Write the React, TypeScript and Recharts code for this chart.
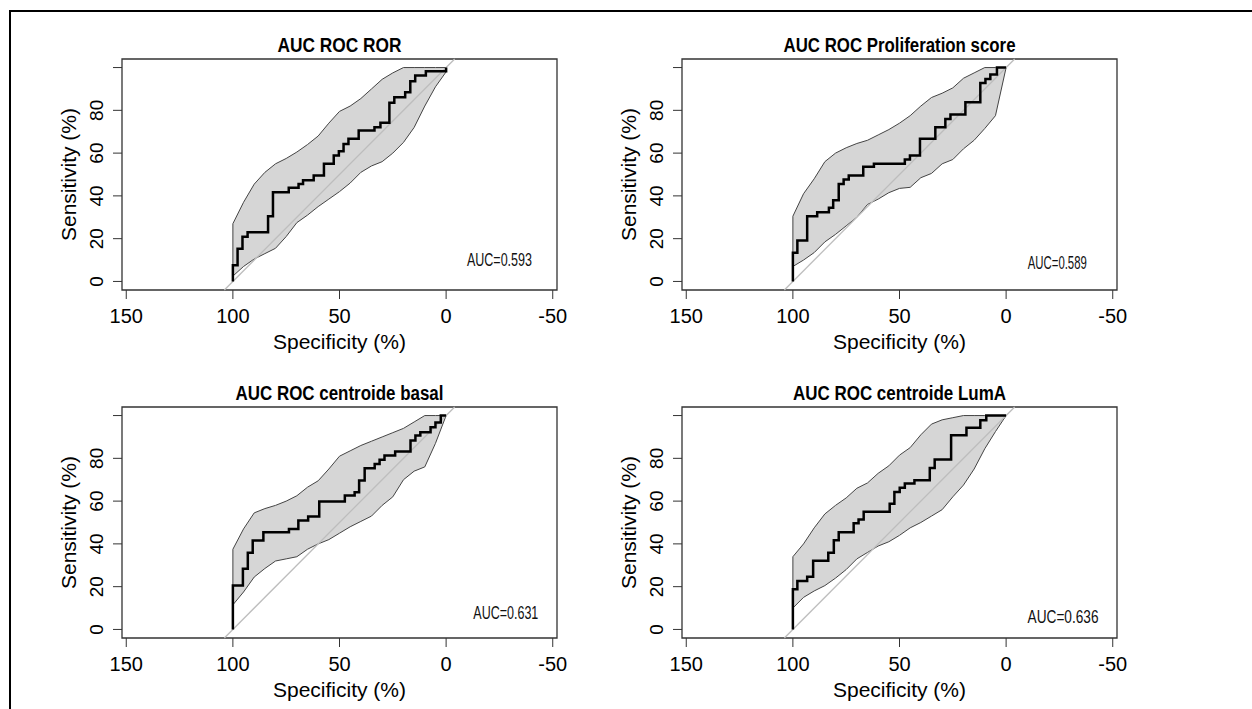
import React from 'react';
import { ComposedChart, Area, Line, XAxis, YAxis, ReferenceArea, ReferenceDot } from 'recharts';

// specificities where the CI band of sensitivity was read
const bandSp = [100, 95, 90, 85, 80, 75, 70, 65, 60, 55, 50, 45, 40, 35, 30, 25, 20, 15, 10, 5, 0];

// ROR
const rorSp = [100, 100, 97.8, 95.5, 93.1, 83.5, 81.2, 73.8, 69.2, 67.1, 62.1, 57.3, 52.7, 50.3, 48.1, 45.8, 41, 33.6, 30.8, 26.6, 24.3, 19.2, 16.8, 14.5, 9.5, 0];
const rorSe = [0, 7.6, 15.3, 20.9, 23, 30.5, 41.7, 43.8, 45.6, 47.3, 49.5, 55, 58.9, 60.9, 64.3, 66.7, 70.6, 72.1, 74.2, 83.5, 86.1, 88.5, 93.6, 96.3, 98.3, 100];
const rorLow = [2.5, 7, 10.5, 13, 15.5, 21, 27.5, 31, 35, 38.5, 42, 46, 51, 54, 56, 60, 65, 72, 82, 91, 98];
const rorHigh = [27, 37, 45.5, 51, 55, 57.5, 60.5, 64, 68, 74, 79.5, 82, 85.5, 90, 94.5, 97.5, 100, 100, 100, 100, 100];

// Proliferation score
const prolifSp = [100, 100, 97.9, 93.3, 88.6, 83.1, 81.1, 78.5, 76.2, 73.8, 67, 62, 47.5, 45.1, 40.4, 33.2, 28.5, 26.1, 19.1, 12.1, 9.7, 7.4, 4.3, 0];
const prolifSe = [0, 13.4, 19.2, 30.5, 32.4, 34.4, 38, 45.6, 47.7, 49.5, 53.6, 55, 57, 58.9, 66.7, 72.1, 76, 78, 83.8, 92.8, 94.7, 96.7, 100, 100];
const prolifLow = [7, 10, 13.5, 18.5, 22, 26, 30, 36, 38.5, 41.5, 43.5, 44, 48.5, 50.5, 55, 57, 62, 66, 71.5, 77.5, 100];
const prolifHigh = [30.5, 41, 48, 56, 60, 62.5, 64.5, 66, 68.5, 71, 74, 77.5, 82, 86, 88, 90.5, 95, 97.5, 100, 100, 100];

// centroide basal
const basalSp = [100, 100, 95.3, 93, 90.7, 85.7, 73.7, 69.3, 64.7, 59.5, 47.5, 42.9, 40.8, 38.2, 33.5, 31.2, 28.9, 23.9, 16.7, 14.4, 12.1, 7.3, 5, 2.5, 0];
const basalSe = [0, 20.6, 28.4, 35.8, 41.6, 45.5, 47, 50.9, 52.8, 59.8, 62.6, 64.2, 69.6, 75.4, 77.4, 79.3, 81.3, 83.2, 88.3, 90.7, 92.2, 94.5, 96.7, 100, 100];
const basalLow = [11.5, 17.5, 24.5, 28.5, 32, 33, 34, 37.5, 40, 42, 45, 48, 50.5, 53, 58, 62, 70, 74, 76, 87, 100];
const basalHigh = [37.5, 47, 54.5, 56.5, 58, 60, 62.5, 66.5, 69.5, 75, 81, 83.5, 86, 88, 90, 92, 94, 97, 100, 100, 100];

// centroide LumA
const lumaSp = [100, 100, 97.9, 93.3, 90.5, 83.4, 80.8, 78.5, 71.5, 69.2, 66.8, 54.6, 52.4, 49.9, 47.5, 43, 35.8, 33.5, 25.8, 18.6, 12.1, 9.3, 0];
const lumaSe = [0, 18.8, 22.7, 24.6, 32.1, 35.9, 41.7, 45.5, 49.6, 51.4, 55, 58.8, 64.3, 66.2, 68.2, 69.7, 75.5, 79.4, 90.8, 94.3, 97.8, 100, 100];
const lumaLow = [10, 15, 18, 20.5, 24, 28, 33, 36, 39, 41, 44, 47.5, 50, 53, 56, 62, 67.5, 75, 84.5, 92.5, 100];
const lumaHigh = [34, 40, 47.5, 54, 58, 61.5, 66, 68.5, 73, 76.5, 81.5, 85, 91, 96, 98, 99, 100, 100, 100, 100, 100];

const xTicks = [150, 100, 50, 0, -50];
const yTicks = [0, 20, 40, 60, 80, 100];
const yTickLabels = ['0', '20', '40', '60', '80', ''];

const titles = ['AUC ROC ROR', 'AUC ROC Proliferation score', 'AUC ROC centroide basal', 'AUC ROC centroide LumA'];
const aucLabels = ['AUC=0.593', 'AUC=0.589', 'AUC=0.631', 'AUC=0.636'];

const FONT = '"Liberation Sans", Arial, Helvetica, sans-serif';
const COL_W = 560;
const ROW_H = 348;
const CHART_W = 600;
const CHART_H = 360;

const panels = [
  { title: titles[0], auc: aucLabels[0], sp: rorSp, se: rorSe, low: rorLow, high: rorHigh, aucAt: { x: -25, y: 10.3 }, titleW: 124, aucW: 65, left: 0, top: 0 },
  { title: titles[1], auc: aucLabels[1], sp: prolifSp, se: prolifSe, low: prolifLow, high: prolifHigh, aucAt: { x: -24, y: 8.9 }, titleW: 232, aucW: 59, left: COL_W, top: 0 },
  { title: titles[2], auc: aucLabels[2], sp: basalSp, se: basalSe, low: basalLow, high: basalHigh, aucAt: { x: -28, y: 8 }, titleW: 208, aucW: 65, left: 0, top: ROW_H },
  { title: titles[3], auc: aucLabels[3], sp: lumaSp, se: lumaSe, low: lumaLow, high: lumaHigh, aucAt: { x: -26.7, y: 6 }, titleW: 213, aucW: 71, left: COL_W, top: ROW_H },
];

const YTick = ({ x, y, payload }: any) => (
  <text x={x} y={y} transform={`rotate(-90, ${x}, ${y})`} textAnchor="middle" fontSize={19} fill="#000" fontFamily={FONT}>
    {yTickLabels[yTicks.indexOf(payload.value)]}
  </text>
);

function RocPanel({ p }: { p: (typeof panels)[number] }) {
  const roc = p.sp.map((sp, i) => ({ sp, se: p.se[i] }));
  const band = bandSp.map((sp, i) => ({ sp, range: [p.low[i], p.high[i]] }));
  const bandEdge = [
    { sp: bandSp[0], se: p.low[0] },
    { sp: bandSp[0], se: p.high[0] },
  ];
  const diagonal = [
    { sp: 104, se: -4 },
    { sp: -4, se: 104 },
  ];

  return (
    <div style={{ position: 'absolute', left: p.left, top: p.top }}>
      <ComposedChart width={CHART_W} height={CHART_H} margin={{ top: 59, right: 43, bottom: 12, left: 62 }}>
        <XAxis
          type="number"
          dataKey="sp"
          domain={[-52, 152]}
          reversed
          ticks={xTicks}
          interval={0}
          height={58}
          axisLine={false}
          tickSize={9}
          tickMargin={10}
          tickLine={{ stroke: '#333' }}
          tick={{ fontSize: 20, fill: '#000', fontFamily: FONT }}
          label={{
            content: ({ viewBox }: any) => (
              <text x={viewBox.x + viewBox.width / 2} y={viewBox.y + 59} textAnchor="middle" fontSize={21} fill="#000" fontFamily={FONT}>
                Specificity (%)
              </text>
            ),
          }}
        />
        <YAxis
          type="number"
          domain={[-4, 104]}
          ticks={yTicks}
          interval={0}
          width={60}
          axisLine={false}
          tickSize={9}
          tickMargin={9.5}
          tickLine={{ stroke: '#333' }}
          tick={<YTick />}
          label={{
            content: ({ viewBox }: any) => {
              const cx = viewBox.x + 6;
              const cy = viewBox.y + viewBox.height / 2;
              return (
                <text x={cx} y={cy} transform={`rotate(-90, ${cx}, ${cy})`} textAnchor="middle" dominantBaseline="central" fontSize={21} fill="#000" fontFamily={FONT}>
                  Sensitivity (%)
                </text>
              );
            },
          }}
        />
        <Area
          data={band}
          dataKey="range"
          type="linear"
          fill="#d6d6d6"
          fillOpacity={1}
          stroke="#444"
          strokeWidth={1}
          isAnimationActive={false}
        />
        <Line data={bandEdge} dataKey="se" type="linear" stroke="#444" strokeWidth={1} dot={false} isAnimationActive={false} />
        <Line data={diagonal} dataKey="se" type="linear" stroke="#bdbdbd" strokeWidth={1.3} dot={false} isAnimationActive={false} />
        <Line data={roc} dataKey="se" type="stepAfter" stroke="#000" strokeWidth={2.5} dot={false} isAnimationActive={false} />
        <ReferenceArea
          x1={152}
          x2={-52}
          y1={-4}
          y2={104}
          fill="none"
          stroke="#333"
          strokeWidth={1.3}
          label={{
            content: ({ viewBox }: any) => (
              <text
                x={viewBox.x + viewBox.width / 2}
                y={viewBox.y - 7}
                textAnchor="middle"
                fontSize={20}
                fontWeight="bold"
                fill="#000"
                fontFamily={FONT}
                textLength={p.titleW}
                lengthAdjust="spacingAndGlyphs"
              >
                {p.title}
              </text>
            ),
          }}
        />
        <ReferenceDot
          x={p.aucAt.x}
          y={p.aucAt.y}
          r={0}
          fill="none"
          stroke="none"
          label={{
            content: ({ viewBox }: any) => (
              <text
                x={viewBox.x + viewBox.width / 2}
                y={viewBox.y + viewBox.height / 2}
                textAnchor="middle"
                dominantBaseline="central"
                fontSize={19}
                fill="#111"
                fontFamily={FONT}
                textLength={p.aucW}
                lengthAdjust="spacingAndGlyphs"
              >
                {p.auc}
              </text>
            ),
          }}
        />
      </ComposedChart>
    </div>
  );
}

export default function App() {
  return (
    <div style={{ position: 'absolute', left: 0, top: 0, width: 1252, height: 709, background: '#fff', overflow: 'hidden' }}>
      <div
        style={{
          position: 'absolute',
          left: 9,
          top: 10,
          width: 1260,
          height: 720,
          borderTop: '2px solid #000',
          borderLeft: '2px solid #000',
        }}
      />
      {panels.map((p) => (
        <RocPanel key={p.title} p={p} />
      ))}
    </div>
  );
}
